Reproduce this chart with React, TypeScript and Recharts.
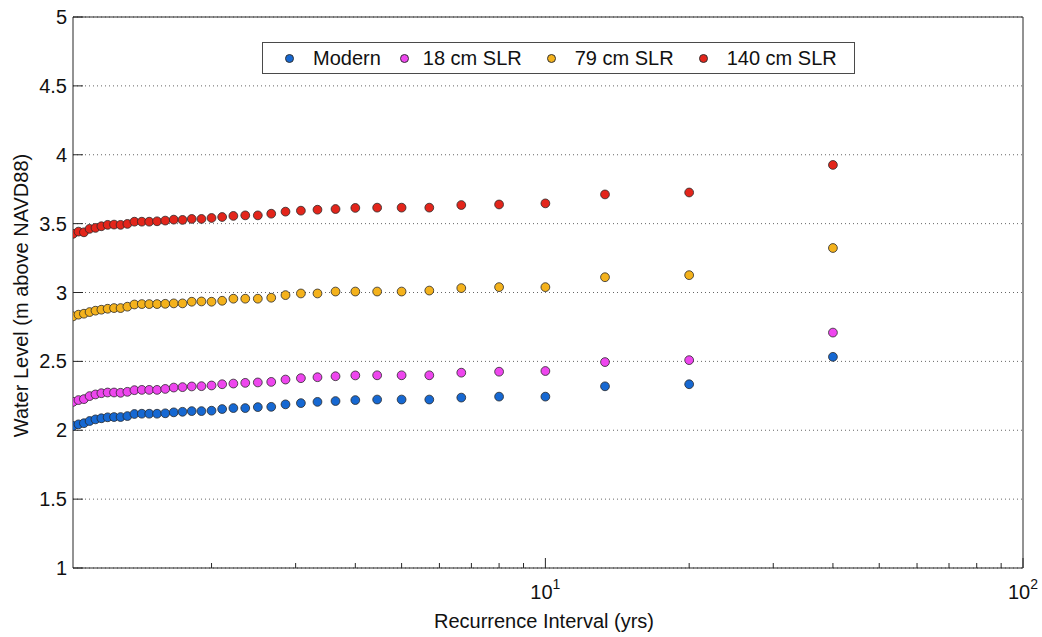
import React from "react";
import {
  ScatterChart,
  Scatter,
  XAxis,
  YAxis,
  CartesianGrid,
} from "recharts";

// recurrence interval (yrs), one per ranked event
const recurrence = [
  1.026, 1.053, 1.081, 1.111, 1.143, 1.176, 1.212, 1.25, 1.29, 1.333,
  1.379, 1.429, 1.481, 1.538, 1.6, 1.667, 1.739, 1.818, 1.905, 2,
  2.105, 2.222, 2.353, 2.5, 2.667, 2.857, 3.077, 3.333, 3.636, 4,
  4.444, 5, 5.714, 6.667, 8, 10, 13.33, 20, 40,
];

const modern = [
  2.031, 2.043, 2.051, 2.067, 2.079, 2.087, 2.094, 2.096, 2.096, 2.103,
  2.118, 2.12, 2.12, 2.12, 2.123, 2.13, 2.134, 2.139, 2.139, 2.142,
  2.154, 2.161, 2.161, 2.168, 2.17, 2.188, 2.197, 2.206, 2.212, 2.219,
  2.223, 2.223, 2.223, 2.237, 2.244, 2.244, 2.319, 2.334, 2.533,
];

const slr18 = [
  2.206, 2.219, 2.226, 2.248, 2.26, 2.269, 2.274, 2.274, 2.272, 2.279,
  2.291, 2.293, 2.293, 2.293, 2.3, 2.31, 2.313, 2.318, 2.32, 2.325,
  2.334, 2.339, 2.344, 2.347, 2.351, 2.368, 2.378, 2.385, 2.392, 2.398,
  2.399, 2.399, 2.399, 2.418, 2.425, 2.43, 2.495, 2.509, 2.709,
];

const slr79 = [
  2.827, 2.839, 2.846, 2.858, 2.868, 2.875, 2.882, 2.887, 2.887, 2.897,
  2.913, 2.916, 2.916, 2.916, 2.918, 2.921, 2.921, 2.933, 2.935, 2.933,
  2.94, 2.955, 2.955, 2.955, 2.962, 2.981, 2.993, 2.993, 3.007, 3.007,
  3.007, 3.007, 3.014, 3.032, 3.039, 3.039, 3.111, 3.126, 3.323,
];

const slr140 = [
  3.426, 3.442, 3.437, 3.462, 3.469, 3.481, 3.491, 3.493, 3.491, 3.498,
  3.514, 3.514, 3.514, 3.517, 3.522, 3.529, 3.527, 3.534, 3.534, 3.541,
  3.548, 3.556, 3.56, 3.56, 3.572, 3.587, 3.594, 3.601, 3.606, 3.614,
  3.616, 3.616, 3.616, 3.635, 3.639, 3.647, 3.712, 3.726, 3.926,
];

const seriesNames = ["Modern", "18 cm SLR", "79 cm SLR", "140 cm SLR"];
const seriesColors = ["#1668d2", "#ee46ee", "#f4b21c", "#e3251b"];
const seriesValues = [modern, slr18, slr79, slr140];

const yTicks = [1, 1.5, 2, 2.5, 3, 3.5, 4, 4.5, 5];
const xTicks = [10, 100];
const xMinorTicks = [2, 3, 4, 5, 6, 7, 8, 9, 20, 30, 40, 50, 60, 70, 80, 90];
const xAllTicks = [...xMinorTicks, ...xTicks].sort((a, b) => a - b);
const xDomain = [1.0256, 100];

const FONT = "Arial, 'Liberation Sans', sans-serif";
const AXIS = "#262626";

// draws its own inward tick line (long for decades, short for minor ticks)
const XTick = (props: any) => {
  const { x, y, payload, side } = props;
  const v = payload.value;
  const major = xTicks.includes(v);
  const len = major ? 10 : 5;
  const dir = side === "top" ? 1 : -1;
  return (
    <g>
      <line x1={x} x2={x} y1={y} y2={y + dir * len} stroke={AXIS} strokeWidth={1} />
      {side === "bottom" && major && (
        <text x={x} y={y + 31} textAnchor="middle" fontSize={20} fill="#111">
          10
          <tspan dy={-10} fontSize={14}>
            {Math.round(Math.log10(v))}
          </tspan>
        </text>
      )}
    </g>
  );
};

const dot = (color: string) => (props: any) => (
  <circle
    cx={props.cx}
    cy={props.cy}
    r={4.4}
    fill={color}
    stroke="#2a2a2a"
    strokeWidth={0.8}
  />
);

const LegendBox = () => (
  <div
    style={{
      position: "absolute",
      left: 262,
      top: 42,
      width: 593,
      height: 32,
      boxSizing: "border-box",
      border: "1px solid #4a4a4a",
      background: "#fff",
      display: "flex",
      alignItems: "center",
      paddingLeft: 22,
      fontSize: 20,
      color: "#111",
      whiteSpace: "nowrap",
    }}
  >
    {seriesNames.map((name, i) => (
      <div
        key={name}
        style={{ display: "flex", alignItems: "center", marginLeft: i === 0 ? 0 : i === 1 ? 19 : 25 }}
      >
        <span
          style={{
            display: "inline-block",
            width: 7,
            height: 7,
            borderRadius: "50%",
            background: seriesColors[i],
            border: "0.8px solid #333",
            marginRight: i === 1 ? 14 : 19,
          }}
        />
        <span>{name}</span>
      </div>
    ))}
  </div>
);

export default function App() {
  return (
    <div
      style={{
        position: "absolute",
        left: 0,
        top: 0,
        width: 1042,
        height: 637,
        background: "#fff",
        fontFamily: FONT,
      }}
    >
      <ScatterChart
        width={1042}
        height={637}
        margin={{ top: 16, right: 18, bottom: 0, left: 0 }}
      >
        <CartesianGrid
          xAxisId="x"
          yAxisId="y"
          vertical={false}
          stroke="#666"
          strokeDasharray="1 3"
        />
        <XAxis
          xAxisId="x"
          dataKey="x"
          type="number"
          scale="log"
          domain={xDomain}
          allowDataOverflow
          ticks={xAllTicks}
          interval={0}
          tick={<XTick side="bottom" />}
          tickLine={false}
          tickSize={0}
          tickMargin={0}
          height={69}
          stroke={AXIS}
          label={(p: any) => {
            const vb = p.viewBox;
            return (
              <text
                x={vb.x + vb.width / 2 - 4}
                y={vb.y + 60}
                textAnchor="middle"
                fontSize={20}
                fill="#111"
              >
                Recurrence Interval (yrs)
              </text>
            );
          }}
        />
        <XAxis
          xAxisId="top"
          orientation="top"
          type="number"
          scale="log"
          domain={xDomain}
          allowDataOverflow
          ticks={xAllTicks}
          interval={0}
          tick={<XTick side="top" />}
          tickLine={false}
          tickSize={0}
          tickMargin={0}
          height={1}
          stroke={AXIS}
        />
        <YAxis
          yAxisId="y"
          dataKey="y"
          type="number"
          domain={[1, 5]}
          allowDataOverflow
          ticks={yTicks}
          interval={0}
          tickSize={-10}
          tickMargin={16}
          width={73}
          stroke={AXIS}
          tick={{ fontSize: 20, fill: "#111" }}
          label={(p: any) => {
            const vb = p.viewBox;
            const cx = 23;
            const cy = vb.y + vb.height / 2 + 3;
            return (
              <text
                x={cx}
                y={cy}
                transform={`rotate(-90 ${cx} ${cy})`}
                textAnchor="middle"
                dominantBaseline="middle"
                fontSize={20}
                fill="#111"
              >
                Water Level (m above NAVD88)
              </text>
            );
          }}
        />
        <YAxis
          yAxisId="right"
          orientation="right"
          type="number"
          domain={[1, 5]}
          allowDataOverflow
          ticks={yTicks}
          interval={0}
          tick={false}
          tickSize={-10}
          width={1}
          stroke={AXIS}
        />
        {seriesNames.map((name, i) => (
          <Scatter
            key={name}
            name={name}
            xAxisId="x"
            yAxisId="y"
            data={recurrence.map((x, j) => ({ x, y: seriesValues[i][j] }))}
            shape={dot(seriesColors[i])}
            isAnimationActive={false}
          />
        ))}
      </ScatterChart>
      <LegendBox />
    </div>
  );
}
